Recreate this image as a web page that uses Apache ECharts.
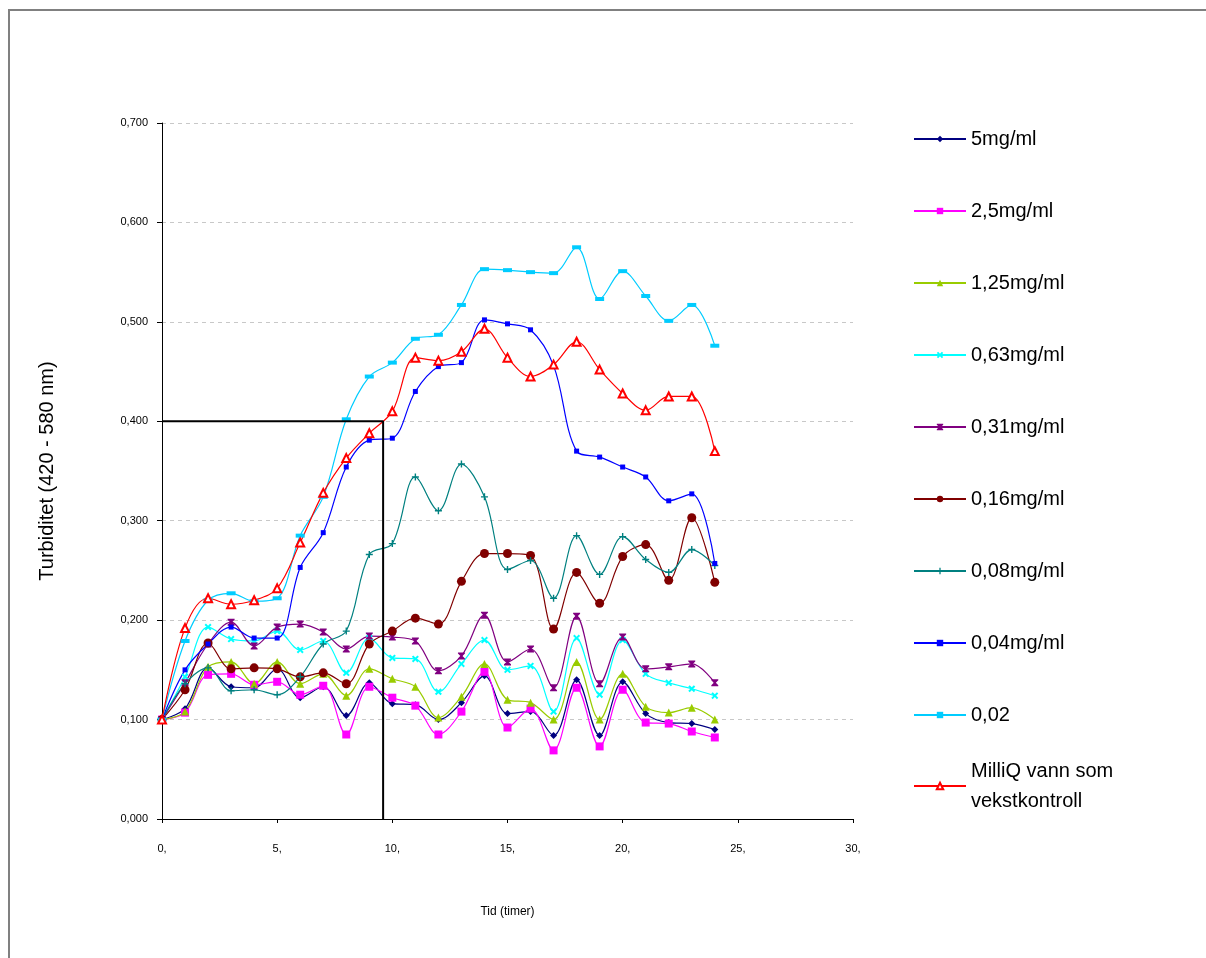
<!DOCTYPE html>
<html>
<head>
<meta charset="utf-8">
<script src="https://cdn.jsdelivr.net/npm/echarts@6/dist/echarts.min.js"></script>
<style>
  html, body { margin: 0; padding: 0; background: #fff; }
  #chart { width: 1206px; height: 958px; }
</style>
</head>
<body>
<div id="chart"></div>
<script>
// Time (hours)
const hours = [0,1,2,3,4,5,6,7,8,9,10,11,12,13,14,15,16,17,18,19,20,21,22,23,24];

const seriesNames = ['5mg/ml','2,5mg/ml','1,25mg/ml','0,63mg/ml','0,31mg/ml','0,16mg/ml','0,08mg/ml','0,04mg/ml','0,02','MilliQ vann som\nvekstkontroll'];

const v5mg   = [0.100,0.111,0.152,0.133,0.132,0.151,0.122,0.133,0.104,0.137,0.116,0.115,0.100,0.117,0.144,0.106,0.108,0.084,0.140,0.084,0.138,0.106,0.097,0.096,0.090];
const v2_5mg = [0.100,0.107,0.145,0.146,0.135,0.138,0.125,0.134,0.085,0.133,0.122,0.114,0.085,0.108,0.148,0.092,0.111,0.069,0.132,0.073,0.130,0.097,0.096,0.088,0.082];
const v1_25mg= [0.100,0.108,0.153,0.158,0.136,0.158,0.136,0.146,0.124,0.151,0.141,0.133,0.102,0.123,0.156,0.120,0.117,0.100,0.158,0.100,0.146,0.113,0.107,0.112,0.100];
const v0_63mg= [0.100,0.143,0.193,0.181,0.179,0.189,0.170,0.179,0.147,0.182,0.162,0.161,0.128,0.156,0.180,0.150,0.154,0.108,0.182,0.125,0.180,0.146,0.137,0.131,0.124];
const v0_31mg= [0.100,0.137,0.176,0.198,0.174,0.193,0.196,0.188,0.171,0.184,0.183,0.179,0.149,0.164,0.205,0.158,0.171,0.132,0.204,0.136,0.183,0.151,0.153,0.156,0.137];
const v0_16mg= [0.100,0.130,0.177,0.151,0.152,0.151,0.143,0.147,0.136,0.176,0.189,0.202,0.196,0.239,0.267,0.267,0.265,0.191,0.248,0.217,0.264,0.276,0.240,0.303,0.238];
const v0_08mg= [0.100,0.136,0.152,0.129,0.130,0.125,0.143,0.176,0.189,0.266,0.277,0.344,0.310,0.357,0.324,0.251,0.260,0.222,0.285,0.246,0.284,0.261,0.248,0.271,0.255];
const v0_04mg= [0.100,0.150,0.176,0.193,0.182,0.182,0.253,0.288,0.354,0.381,0.383,0.430,0.455,0.459,0.502,0.498,0.492,0.456,0.370,0.364,0.354,0.344,0.320,0.327,0.257];
const v0_02  = [0.100,0.179,0.220,0.227,0.219,0.222,0.285,0.324,0.402,0.445,0.459,0.483,0.487,0.517,0.553,0.552,0.550,0.549,0.575,0.523,0.551,0.526,0.501,0.517,0.476];
const vMilliQ= [0.100,0.192,0.222,0.216,0.220,0.232,0.278,0.328,0.363,0.388,0.410,0.464,0.461,0.470,0.493,0.464,0.445,0.457,0.480,0.452,0.428,0.411,0.425,0.425,0.370];

// Reference guide line (x, y)
const refX = [0, 9.6, 9.6];
const refY = [0.400, 0.400, 0.000];

const allValues = [v5mg, v2_5mg, v1_25mg, v0_63mg, v0_31mg, v0_16mg, v0_08mg, v0_04mg, v0_02, vMilliQ];
const colors = ['#000080','#FF00FF','#99CC00','#00FFFF','#800080','#800000','#008080','#0000FF','#00CCFF','#FF0000'];
const xShape = 'path://M0,2 L2,0 L5,3 L8,0 L10,2 L7,5 L10,8 L8,10 L5,7 L2,10 L0,8 L3,5 Z';
const bowShape = 'path://M0,0 L10,0 L10,1.5 L6.5,5 L10,8.5 L10,10 L0,10 L0,8.5 L3.5,5 L0,1.5 Z';
const plusShape = 'path://M4,0 H6 V4 H10 V6 H6 V10 H4 V6 H0 V4 H4 Z';
const symbols = ['diamond','rect','triangle',xShape,bowShape,'circle',plusShape,'rect','rect','emptyTriangle'];
const symbolSizes = [7,8,8,7,7,9,7,5,[9,4],8];

const series = allValues.map((vals, i) => ({
  name: seriesNames[i],
  type: 'line',
  smooth: 0.35,
  data: hours.map((h, k) => [h, vals[k]]),
  symbol: symbols[i],
  symbolSize: symbolSizes[i],
  showSymbol: true,
  lineStyle: { color: colors[i], width: 1.2 },
  itemStyle: i === 9 ? { color: colors[i], borderColor: colors[i], borderWidth: 1.5 } : { color: colors[i] },
  z: 3
}));

series.push({
  name: 'ref',
  type: 'line',
  data: refX.map((x, k) => [x, refY[k]]),
  symbol: 'none',
  lineStyle: { color: '#000', width: 2 },
  z: 5,
  silent: true
});

const legendFont = 'Liberation Sans, Arial, sans-serif';

const chart = echarts.init(document.getElementById('chart'), null, { renderer: 'canvas' });
chart.setOption({
  animation: false,
  backgroundColor: '#fff',
  textStyle: { fontFamily: 'Liberation Sans, Arial, sans-serif' },
  graphic: [{
    type: 'polyline',
    shape: { points: [[9, 960], [9, 10], [1210, 10]] },
    style: { stroke: '#808080', lineWidth: 2, fill: null },
    silent: true
  }],
  grid: { left: 162, right: 353, top: 123, bottom: 139, containLabel: false },
  legend: [{
    orient: 'vertical',
    left: 913,
    top: 127,
    height: 800,
    padding: 0,
    itemWidth: 52,
    itemHeight: 8,
    itemGap: 48,
    data: seriesNames.slice(0, 9),
    textStyle: { fontSize: 20, color: '#000', fontFamily: legendFont, lineHeight: 24 },
    selectedMode: false
  }, {
    orient: 'vertical',
    left: 913,
    top: 741,
    height: 200,
    padding: 0,
    itemWidth: 52,
    itemHeight: 8,
    data: seriesNames.slice(9),
    textStyle: { fontSize: 20, color: '#000', fontFamily: legendFont, lineHeight: 30, padding: [30, 0, 0, 0] },
    selectedMode: false
  }],
  xAxis: {
    type: 'value',
    min: 0, max: 30, interval: 5,
    name: 'Tid (timer)',
    nameLocation: 'middle',
    nameGap: 87,
    nameTextStyle: { fontSize: 12, color: '#000' },
    axisLine: { lineStyle: { color: '#000', width: 1 } },
    axisTick: { show: true, length: 4, lineStyle: { color: '#000' } },
    axisLabel: { fontSize: 11, color: '#000', margin: 24, formatter: v => v + ',' },
    splitLine: { show: false }
  },
  yAxis: {
    type: 'value',
    min: 0, max: 0.7, interval: 0.1,
    name: 'Turbiditet (420 - 580 nm)',
    nameLocation: 'middle',
    nameGap: 105,
    nameTextStyle: { fontSize: 20, color: '#000' },
    axisLine: { show: true, lineStyle: { color: '#000', width: 1 } },
    axisTick: { show: true, length: 5, lineStyle: { color: '#000' } },
    axisLabel: { fontSize: 11, color: '#000', margin: 14, formatter: v => v.toFixed(3).replace('.', ',') },
    splitLine: { show: true, lineStyle: { color: '#c8c8c8', type: [4, 4] } }
  },
  series: series
});
</script>
</body>
</html>
